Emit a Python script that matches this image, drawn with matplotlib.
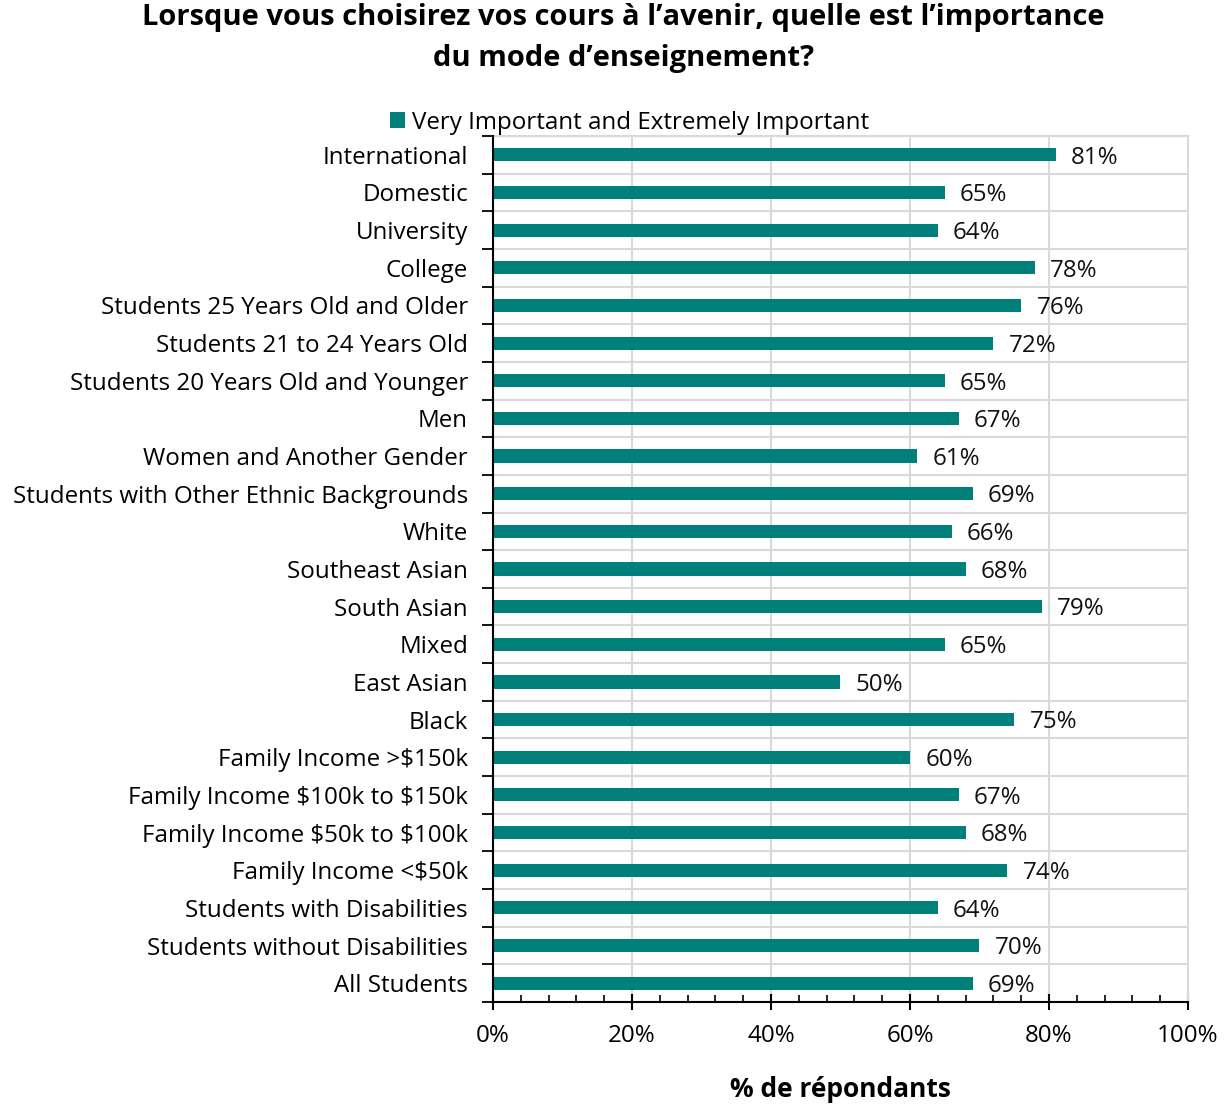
import numpy as np
import matplotlib.pyplot as plt
from matplotlib.ticker import MultipleLocator, FuncFormatter

plt.rcParams['font.family'] = ['Open Sans', 'Noto Sans', 'DejaVu Sans']
plt.rcParams['text.parse_math'] = False

# data, top of chart first
categories = [
    "International", "Domestic", "University", "College",
    "Students 25 Years Old and Older", "Students 21 to 24 Years Old",
    "Students 20 Years Old and Younger", "Men", "Women and Another Gender",
    "Students with Other Ethnic Backgrounds", "White", "Southeast Asian",
    "South Asian", "Mixed", "East Asian", "Black",
    "Family Income >$150k", "Family Income $100k to $150k",
    "Family Income $50k to $100k", "Family Income <$50k",
    "Students with Disabilities", "Students without Disabilities",
    "All Students",
]
values = [81, 65, 64, 78, 76, 72, 65, 67, 61, 69, 66, 68, 79, 65, 50, 75,
          60, 67, 68, 74, 64, 70, 69]
series_name = "Very Important and Extremely Important"

teal = "#00807A"
fs = 17.4

fig = plt.figure(figsize=(12.27, 11.04), dpi=100)
ax = fig.add_axes([0.4018, 0.0924, 0.5664, 0.7844])

n = len(categories)
y = np.arange(n)[::-1]
ax.barh(y, values, height=0.35, color=teal, label=series_name, zorder=3)

for yi, v in zip(y, values):
    ax.annotate(f"{v}%", (v, yi), xytext=(11, -2), textcoords="offset points",
                va="center", ha="left", fontsize=fs, color="#111111")

ax.set_xlim(0, 100)
ax.set_ylim(-0.5, n - 0.5)

# y ticks at category boundaries, labels centred on bars
ax.set_yticks(np.arange(-0.5, n, 1.0))
ax.set_yticklabels([])
ax.set_yticks(y, minor=True)
ax.set_yticklabels(categories, minor=True, fontsize=fs)
ax.tick_params(axis="y", which="minor", length=0, pad=18)
ax.tick_params(axis="y", which="major", direction="out", length=8, width=1.3)

ax.xaxis.set_major_locator(MultipleLocator(20))
ax.xaxis.set_minor_locator(MultipleLocator(4))
ax.xaxis.set_major_formatter(FuncFormatter(lambda v, p: f"{v:.0f}%"))
ax.tick_params(axis="x", which="major", direction="inout", length=12, width=1.5,
               labelsize=fs, pad=10)
ax.tick_params(axis="x", which="minor", direction="in", length=5, width=1.2)

ax.grid(True, axis="x", which="major", color="#d9d9d9", lw=1.5, zorder=0)
ax.grid(True, axis="y", which="major", color="#d9d9d9", lw=1.5, zorder=0)

for s in ["top", "right"]:
    ax.spines[s].set_color("#d9d9d9")
    ax.spines[s].set_linewidth(1.5)
for s in ["left", "bottom"]:
    ax.spines[s].set_color("black")
    ax.spines[s].set_linewidth(1.5)
    ax.spines[s].set_zorder(4)

ax.set_xlabel("% de répondants", fontsize=19, fontweight="bold", labelpad=20)

fig.legend(loc="center", bbox_to_anchor=(0.513, 0.889), frameon=False,
           fontsize=fs, handlelength=0.6, handleheight=0.6,
           handletextpad=0.3, borderpad=0)

fig.suptitle("Lorsque vous choisirez vos cours à l’avenir, quelle est l’importance\n"
             "du mode d’enseignement?", x=0.508, y=0.997, fontsize=21,
             fontweight="bold", linespacing=1.55)

fig.savefig("out.png", dpi=100)
